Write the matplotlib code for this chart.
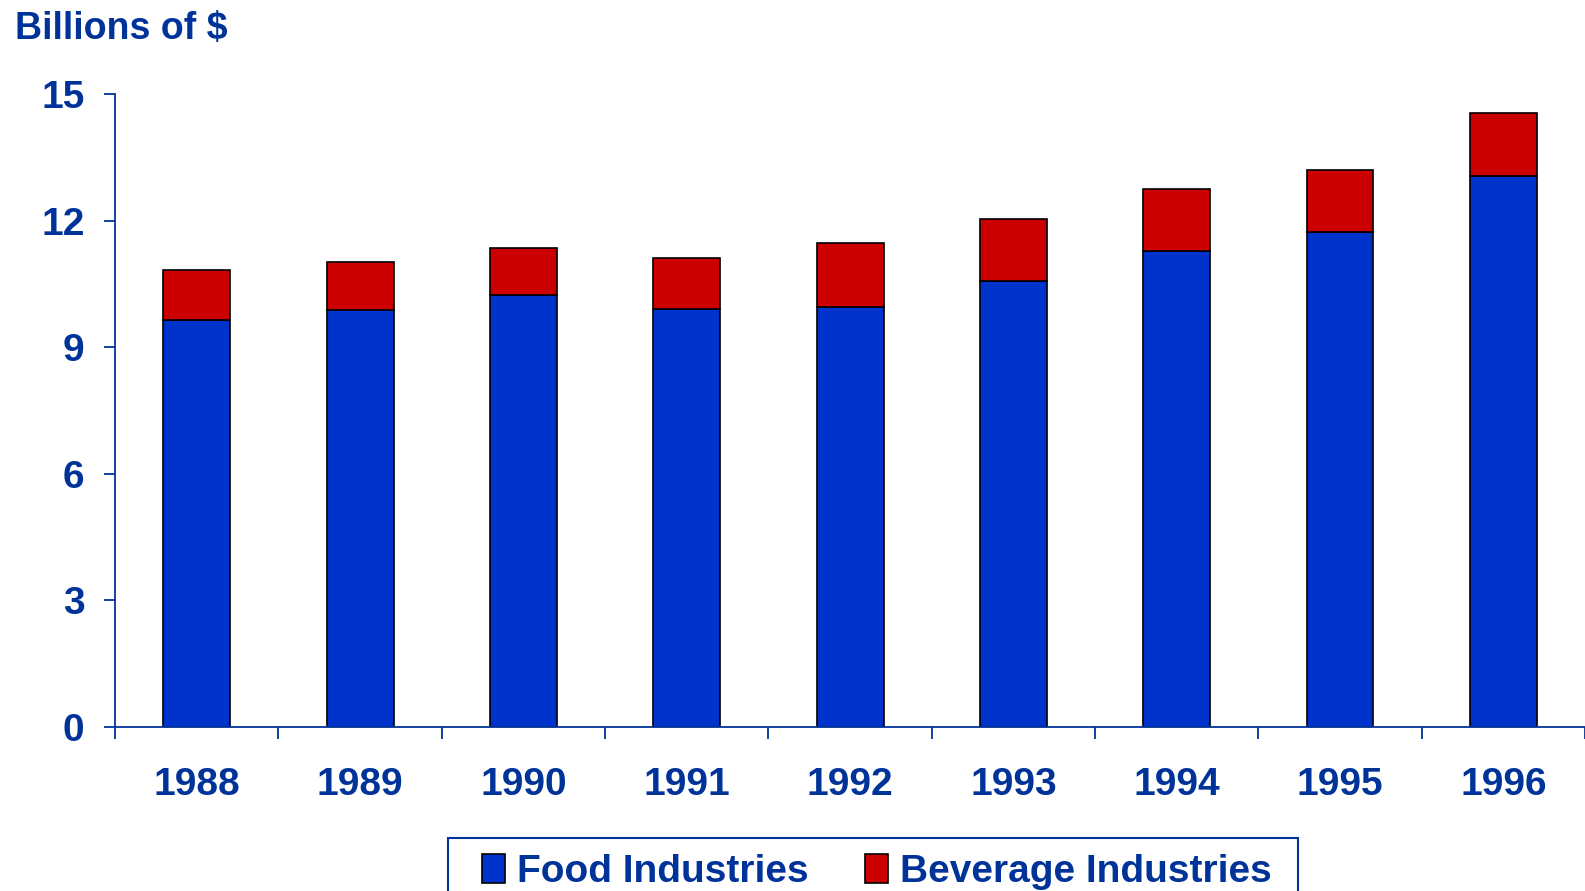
import matplotlib
matplotlib.use('Agg')
import matplotlib.pyplot as plt
from matplotlib.patches import Rectangle
import numpy as np

# values (billions of $)
years = ['1988', '1989', '1990', '1991', '1992', '1993', '1994', '1995', '1996']
food = [9.65, 9.88, 10.24, 9.90, 9.95, 10.57, 11.29, 11.72, 13.05]
beverage = [1.18, 1.14, 1.12, 1.22, 1.51, 1.46, 1.47, 1.47, 1.50]
y_ticks = [0, 3, 6, 9, 12, 15]

text_col = '#003399'
food_col = '#0033CC'
bev_col = '#CC0000'

plt.rcParams['font.family'] = ['Liberation Sans', 'DejaVu Sans']
plt.rcParams['font.weight'] = 'bold'

fig = plt.figure(figsize=(15.85, 8.91), dpi=100)
ax = fig.add_axes([0.0726, 0.184, 0.9274, 0.7105])

x = np.arange(len(years))
ax.bar(x, food, width=0.41, color=food_col, edgecolor='black', linewidth=1.2,
       label='Food Industries')
ax.bar(x, beverage, width=0.41, bottom=food, color=bev_col, edgecolor='black',
       linewidth=1.2, label='Beverage Industries')

ax.set_xlim(-0.5, len(years) - 0.5)
ax.set_ylim(0, 15)

ax.spines['top'].set_visible(False)
ax.spines['right'].set_visible(False)
for s in ['left', 'bottom']:
    ax.spines[s].set_color(text_col)
    ax.spines[s].set_linewidth(1.3)

ax.set_yticks(y_ticks)
ax.set_yticklabels([str(v) for v in y_ticks])
ax.tick_params(axis='y', length=8, width=1.3, color=text_col, pad=14,
               labelsize=28, labelcolor=text_col)

ax.set_xticks(x)
ax.set_xticklabels(years)
ax.set_xticks(np.arange(len(years) + 1) - 0.5, minor=True)
ax.tick_params(axis='x', which='major', length=0, pad=29,
               labelsize=28, labelcolor=text_col)
ax.tick_params(axis='x', which='minor', length=8.6, width=1.3, color=text_col)

fig.text(0.0095, 0.988, 'Billions of $', fontsize=27, fontweight='bold',
         color=text_col, ha='left', va='top')

# legend box (runs off the bottom edge like the original)
box_left = 448 / 1585
box_right = 1298 / 1585
box_top = 1 - 838 / 891
fig.patches.append(Rectangle((box_left, -0.05), box_right - box_left, box_top + 0.05,
                             transform=fig.transFigure, fill=False,
                             edgecolor=text_col, linewidth=1.5))

leg = fig.legend(loc='center left', bbox_to_anchor=(482 / 1585, 1 - 872 / 891),
                 ncol=2, frameon=False, fontsize=28, borderaxespad=0, borderpad=0,
                 handlelength=0.6, handleheight=0.75, handletextpad=0.3,
                 columnspacing=1.45)
for t in leg.get_texts():
    t.set_color(text_col)

fig.savefig('out.png', dpi=100)
